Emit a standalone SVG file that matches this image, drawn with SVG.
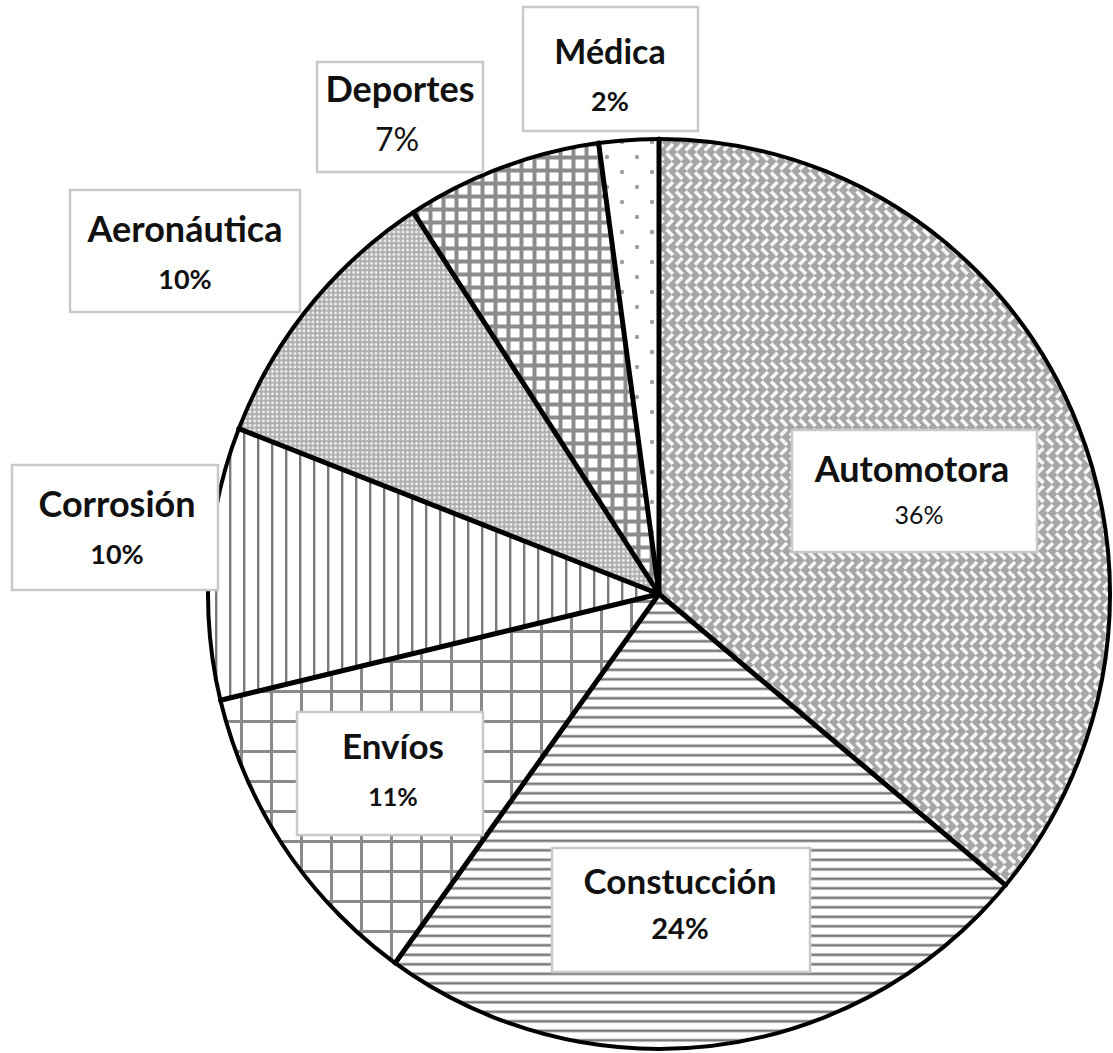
<svg xmlns="http://www.w3.org/2000/svg" width="1113" height="1053" viewBox="0 0 1113 1053">
<defs>
<pattern id="pWeave" width="19" height="19" patternUnits="userSpaceOnUse">
<rect width="19" height="19" fill="#a6a6a6"/>
<g stroke="#f6f6f6" stroke-width="3.6" fill="none">
<path d="M1.5,1.5 L8,8 M11,1.5 L17.5,8"/>
<path d="M1.5,17.5 L8,11 M11,17.5 L17.5,11"/>
</g>
</pattern>
<pattern id="pHoriz" width="20" height="9.5" patternUnits="userSpaceOnUse">
<rect width="20" height="9.5" fill="#fff"/>
<rect y="3.5" width="20" height="2.6" fill="#7a7a7a"/>
</pattern>
<pattern id="pBigGrid" width="30" height="30" patternUnits="userSpaceOnUse">
<rect width="30" height="30" fill="#fff"/>
<rect x="0" y="0" width="3" height="30" fill="#8a8a8a"/>
<rect x="0" y="0" width="30" height="3" fill="#8a8a8a"/>
</pattern>
<pattern id="pVert" width="14" height="20" patternUnits="userSpaceOnUse">
<rect width="14" height="20" fill="#fff"/>
<rect x="5" width="2.4" height="20" fill="#7a7a7a"/>
</pattern>
<pattern id="pFine" width="4.5" height="4.5" patternUnits="userSpaceOnUse">
<rect width="4.5" height="4.5" fill="#adadad"/>
<rect x="1.2" y="1.2" width="2.6" height="2.6" rx="0.8" fill="#f2f2f2"/>
</pattern>
<pattern id="pSmallGrid" width="13" height="13" patternUnits="userSpaceOnUse">
<rect width="13" height="13" fill="#8c8c8c"/>
<rect x="3.5" y="3.5" width="9" height="9" fill="#fff"/>
</pattern>
<pattern id="pDots" width="30" height="30" patternUnits="userSpaceOnUse">
<rect width="30" height="30" fill="#fff"/>
<circle cx="7" cy="7" r="2.2" fill="#a0a0a0"/>
<circle cx="22" cy="22" r="2.2" fill="#a0a0a0"/>
</pattern>
</defs>
<style>
.box{fill:#fff;stroke:#c9c9c9;stroke-width:2.5}
.t{font-family:Lato,"Open Sans","Liberation Sans",sans-serif;font-weight:bold;fill:#111;text-anchor:middle}
.n{font-family:Lato,"Open Sans","Liberation Sans",sans-serif;fill:#111;text-anchor:middle}
.spoke{stroke:#000;stroke-width:5;stroke-linecap:round;fill:none}
</style>
<rect width="1113" height="1053" fill="#fff"/>
<g id="wedges">
<path id="w-automotora" d="M659,594 L659,139 A451,455 0 0 1 1005.5,885.2 Z" fill="url(#pWeave)"/>
<path id="w-construccion" d="M659,594 L1005.5,885.2 A451,455 0 0 1 395.2,963 Z" fill="url(#pHoriz)"/>
<path id="w-envios" d="M659,594 L395.2,963 A451,455 0 0 1 220.5,700.2 Z" fill="url(#pBigGrid)"/>
<path id="w-corrosion" d="M659,594 L220.5,700.2 A451,455 0 0 1 238.8,428.7 Z" fill="url(#pVert)"/>
<path id="w-aeronautica" d="M659,594 L238.8,428.7 A451,455 0 0 1 413.4,212.4 Z" fill="url(#pFine)"/>
<path id="w-deportes" d="M659,594 L413.4,212.4 A451,455 0 0 1 598.6,143.1 Z" fill="url(#pSmallGrid)"/>
<path id="w-medica" d="M659,594 L598.6,143.1 A451,455 0 0 1 659,139 Z" fill="url(#pDots)"/>
</g>
<g id="connectors">
<ellipse cx="659" cy="594" rx="451" ry="455" fill="none" stroke="#000" stroke-width="4"/>
<path class="spoke" d="M659,594 L659,139"/>
<path class="spoke" d="M659,594 L1005.5,885.2"/>
<path class="spoke" d="M659,594 L395.2,963"/>
<path class="spoke" d="M659,594 L220.5,700.2"/>
<path class="spoke" d="M659,594 L238.8,428.7"/>
<path class="spoke" d="M659,594 L413.4,212.4"/>
<path class="spoke" d="M659,594 L598.6,143.1"/>
</g>
<g id="label-medica">
<rect class="box" x="523" y="7" width="175" height="124"/>
<text class="t" x="610" y="64" font-size="34">Médica</text>
<text class="t" x="610" y="111" font-size="27">2%</text>
</g>
<g id="label-deportes">
<rect class="box" x="317" y="62" width="166" height="110"/>
<text class="t" x="400" y="102" font-size="36">Deportes</text>
<text class="n" x="397" y="151" font-size="32">7%</text>
</g>
<g id="label-aeronautica">
<rect class="box" x="70" y="190" width="230" height="122"/>
<text class="t" x="185" y="242" font-size="36">Aeronáutica</text>
<text class="t" x="185" y="289" font-size="27">10%</text>
</g>
<g id="label-corrosion">
<rect class="box" x="12" y="465" width="206" height="125"/>
<text class="t" x="117" y="517" font-size="36">Corrosión</text>
<text class="t" x="117" y="564" font-size="27">10%</text>
</g>
<g id="label-automotora">
<rect class="box" x="792" y="430" width="245" height="122"/>
<text class="t" x="912" y="482" font-size="36">Automotora</text>
<text class="n" x="919" y="524" font-size="25">36%</text>
</g>
<g id="label-envios">
<rect class="box" x="297" y="712" width="186" height="123"/>
<text class="t" x="393" y="759" font-size="35">Envíos</text>
<text class="t" x="393" y="806" font-size="25">11%</text>
</g>
<g id="label-construccion">
<rect class="box" x="552" y="848" width="258" height="124"/>
<text class="t" x="680" y="894" font-size="35">Constucción</text>
<text class="t" x="680" y="939" font-size="29">24%</text>
</g>
</svg>
